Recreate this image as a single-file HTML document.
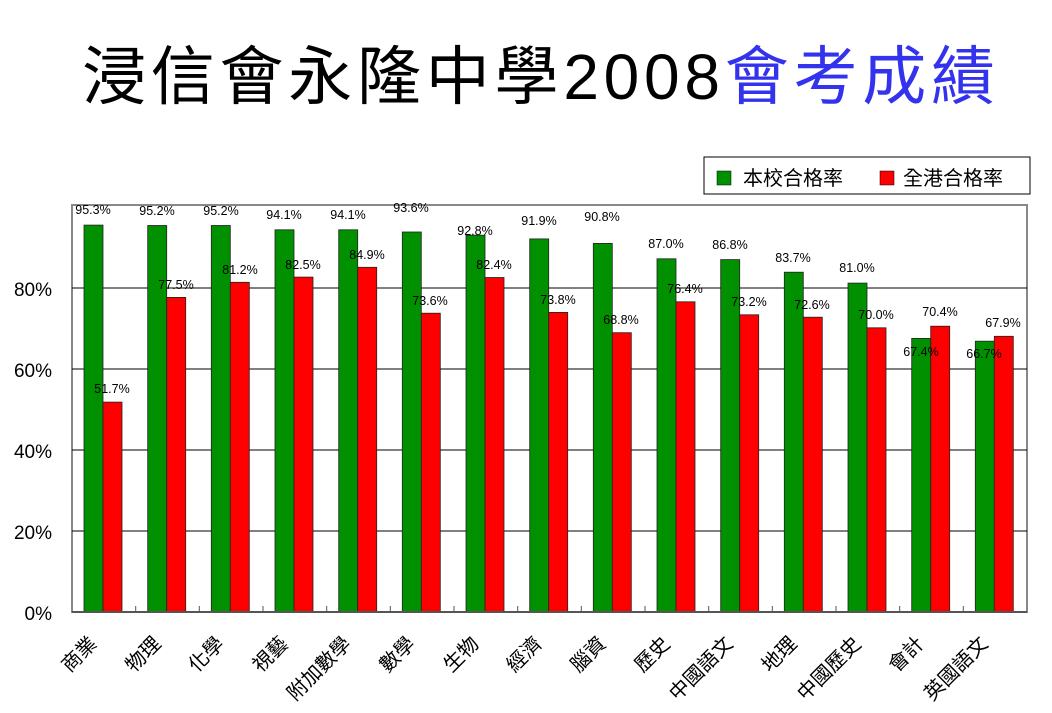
<!DOCTYPE html>
<html><head><meta charset="utf-8"><style>
html,body{margin:0;padding:0;background:#fff;}
svg{display:block;}
text{font-family:"Liberation Sans","Noto Sans CJK TC",sans-serif;}
</style></head><body>
<svg width="1052" height="713" viewBox="0 0 1052 713" xmlns="http://www.w3.org/2000/svg">
<text x="82" y="99" font-size="64" fill="#000" textLength="913" lengthAdjust="spacing" style='font-family:"Liberation Sans","Noto Sans CJK TC",sans-serif'>浸信會永隆中學2008<tspan fill="#3333ee">會考成績</tspan></text>

<rect x="704" y="157" width="326" height="37" fill="#fff" stroke="#000" stroke-width="1"/>
<rect x="717" y="171" width="14" height="14" fill="#009000" stroke="#000" stroke-width="0.5"/>
<text x="743" y="185" font-size="20">本校合格率</text>
<rect x="880" y="171" width="14" height="14" fill="#ff0000" stroke="#000" stroke-width="0.5"/>
<text x="903" y="185" font-size="20">全港合格率</text>

<rect x="72" y="205" width="955" height="407" fill="#fff" stroke="#888" stroke-width="2"/>
<g stroke="#000" stroke-width="1">
<line x1="72" y1="288" x2="1027" y2="288"/>
<line x1="72" y1="369" x2="1027" y2="369"/>
<line x1="72" y1="450" x2="1027" y2="450"/>
<line x1="72" y1="531" x2="1027" y2="531"/>
</g>
<g font-size="19" text-anchor="end">
<text x="52" y="296">80%</text>
<text x="52" y="377">60%</text>
<text x="52" y="458">40%</text>
<text x="52" y="539">20%</text>
<text x="52" y="620">0%</text>
</g>

<g stroke="#222" stroke-width="0.8">
<rect x="84" y="225.1" width="19" height="386.9" fill="#009000"/><rect x="103" y="402.1" width="19" height="209.9" fill="#ff0000"/>
<rect x="147.7" y="225.5" width="19" height="386.5" fill="#009000"/><rect x="166.7" y="297.4" width="19" height="314.6" fill="#ff0000"/>
<rect x="211.3" y="225.5" width="19" height="386.5" fill="#009000"/><rect x="230.3" y="282.3" width="19" height="329.7" fill="#ff0000"/>
<rect x="275" y="229.8" width="19" height="382.2" fill="#009000"/><rect x="294" y="277.1" width="19" height="334.9" fill="#ff0000"/>
<rect x="338.7" y="229.8" width="19" height="382.2" fill="#009000"/><rect x="357.7" y="267.3" width="19" height="344.7" fill="#ff0000"/>
<rect x="402.3" y="232" width="19" height="380" fill="#009000"/><rect x="421.3" y="313.2" width="19" height="298.8" fill="#ff0000"/>
<rect x="466" y="235.2" width="19" height="376.8" fill="#009000"/><rect x="485" y="277.5" width="19" height="334.5" fill="#ff0000"/>
<rect x="529.7" y="238.9" width="19" height="373.1" fill="#009000"/><rect x="548.7" y="312.4" width="19" height="299.6" fill="#ff0000"/>
<rect x="593.3" y="243.4" width="19" height="368.6" fill="#009000"/><rect x="612.3" y="332.7" width="19" height="279.3" fill="#ff0000"/>
<rect x="657" y="258.8" width="19" height="353.2" fill="#009000"/><rect x="676" y="301.8" width="19" height="310.2" fill="#ff0000"/>
<rect x="720.7" y="259.6" width="19" height="352.4" fill="#009000"/><rect x="739.7" y="314.8" width="19" height="297.2" fill="#ff0000"/>
<rect x="784.3" y="272.2" width="19" height="339.8" fill="#009000"/><rect x="803.3" y="317.2" width="19" height="294.8" fill="#ff0000"/>
<rect x="848" y="283.1" width="19" height="328.9" fill="#009000"/><rect x="867" y="327.8" width="19" height="284.2" fill="#ff0000"/>
<rect x="911.7" y="338.4" width="19" height="273.6" fill="#009000"/><rect x="930.7" y="326.2" width="19" height="285.8" fill="#ff0000"/>
<rect x="975.3" y="341.2" width="19" height="270.8" fill="#009000"/><rect x="994.3" y="336.3" width="19" height="275.7" fill="#ff0000"/>
</g>

<g stroke="#555" stroke-width="1">
<line x1="72" y1="612" x2="1027" y2="612" stroke-width="2"/>
<line x1="135.7" y1="612" x2="135.7" y2="606"/><line x1="199.3" y1="612" x2="199.3" y2="606"/><line x1="263" y1="612" x2="263" y2="606"/><line x1="326.7" y1="612" x2="326.7" y2="606"/><line x1="390.3" y1="612" x2="390.3" y2="606"/><line x1="454" y1="612" x2="454" y2="606"/><line x1="517.7" y1="612" x2="517.7" y2="606"/><line x1="581.3" y1="612" x2="581.3" y2="606"/><line x1="645" y1="612" x2="645" y2="606"/><line x1="708.7" y1="612" x2="708.7" y2="606"/><line x1="772.3" y1="612" x2="772.3" y2="606"/><line x1="836" y1="612" x2="836" y2="606"/><line x1="899.7" y1="612" x2="899.7" y2="606"/><line x1="963.3" y1="612" x2="963.3" y2="606"/>
</g>

<g font-size="12.5" text-anchor="middle">
<text x="93" y="214">95.3%</text><text x="112" y="393">51.7%</text>
<text x="157" y="215">95.2%</text><text x="176" y="289">77.5%</text>
<text x="221" y="215">95.2%</text><text x="240" y="274">81.2%</text>
<text x="284" y="219">94.1%</text><text x="303" y="269">82.5%</text>
<text x="348" y="219">94.1%</text><text x="367" y="259">84.9%</text>
<text x="411" y="212">93.6%</text><text x="430" y="305">73.6%</text>
<text x="475" y="235">92.8%</text><text x="494" y="269">82.4%</text>
<text x="539" y="225">91.9%</text><text x="558" y="304">73.8%</text>
<text x="602" y="221">90.8%</text><text x="621" y="324">68.8%</text>
<text x="666" y="248">87.0%</text><text x="685" y="293">76.4%</text>
<text x="730" y="249">86.8%</text><text x="749" y="306">73.2%</text>
<text x="793" y="262">83.7%</text><text x="812" y="309">72.6%</text>
<text x="857" y="272">81.0%</text><text x="876" y="319">70.0%</text>
<text x="921" y="356">67.4%</text><text x="940" y="316">70.4%</text>
<text x="984" y="358">66.7%</text><text x="1003" y="327">67.9%</text>
</g>

<g font-size="20" text-anchor="end">
<text x="98" y="645" transform="rotate(-45 98 645)">商業</text>
<text x="162" y="645" transform="rotate(-45 162 645)">物理</text>
<text x="225" y="645" transform="rotate(-45 225 645)">化學</text>
<text x="289" y="645" transform="rotate(-45 289 645)">視藝</text>
<text x="352" y="645" transform="rotate(-45 352 645)">附加數學</text>
<text x="416" y="645" transform="rotate(-45 416 645)">數學</text>
<text x="480" y="645" transform="rotate(-45 480 645)">生物</text>
<text x="543" y="645" transform="rotate(-45 543 645)">經濟</text>
<text x="607" y="645" transform="rotate(-45 607 645)">腦資</text>
<text x="671" y="645" transform="rotate(-45 671 645)">歷史</text>
<text x="734" y="645" transform="rotate(-45 734 645)">中國語文</text>
<text x="798" y="645" transform="rotate(-45 798 645)">地理</text>
<text x="862" y="645" transform="rotate(-45 862 645)">中國歷史</text>
<text x="925" y="645" transform="rotate(-45 925 645)">會計</text>
<text x="989" y="645" transform="rotate(-45 989 645)">英國語文</text>
</g>
</svg>
</body></html>
